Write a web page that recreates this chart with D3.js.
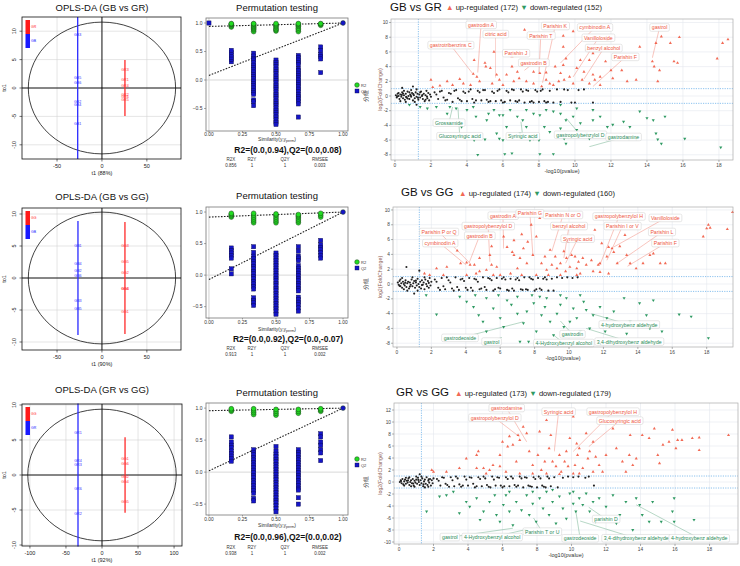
<!DOCTYPE html>
<html><head><meta charset="utf-8">
<script src="https://cdn.jsdelivr.net/npm/d3@7"></script>
<style>body{margin:0;background:#fff}svg{display:block}</style>
</head><body><script>
// ================= DATA =================
// ---- OPLS-DA score plots ----
const oplsTitles=["OPLS-DA (GB vs GR)","OPLS-DA (GB vs GG)","OPLS-DA (GR vs GG)"];
const oplsXLabels=["t1 (88%)","t1 (90%)","t1 (92%)"];
const oplsYLabel="to1";
const oplsGroups=[["GB","GR"],["GB","GG"],["GR","GG"]];
const oplsXTicks=[[-50,0,50],[-50,0,50],[-100,-50,0,50,100]];
const oplsYTicks=[-10,-5,0,5,10];
const oplsEllipse=[[82,11.6],[82,10.3],[103,9.4]];           // [t1 radius, to1 radius]
const oplsLineA=[[-27,-12.5,12.5],[-26.7,-8.9,8.9],[-33.3,-10.2,10.2]]; // [t1, to1 min, to1 max]
const oplsLineB=[[25.6,-4.95,4.95],[25.6,-8.75,8.75],[32,-5.4,5.4]];
const oplsScoresA=[
 [["GB3",9.4],["GB5",1.8],["GB6",1.0],["GB2",-2.5],["GB4",-3.0],["GB1",-6.3]],
 [["GB1",5.0],["GB4",2.2],["GB2",1.1],["GB6",0.3],["GB3",-3.6],["GB5",-4.8]],
 [["GR1",6.1],["GR4",2.1],["GR3",1.4],["GR6",-2.0],["GR2",-5.6]]];
const oplsScoresB=[
 [["GR3",3.2],["GR1",1.4],["GR4",0.4],["GR2",-1.1],["GR6",-1.6],["GR5",-2.1]],
 [["GG3",5.1],["GG5",2.5],["GG2",0.8],["GG4",-1.6],["GG6",-1.7],["GG1",-5.2]],
 [["GG1",2.3],["GG6",1.65],["GG2",-0.3],["GG4",-0.95],["GG5",-3.8]]];

// ---- Permutation tests ----
const permSim=[0.1667,0.3333,0.5,0.6667,0.8333];
const permR2=[
 [[0.93,0.95,0.97,0.98,0.99],[0.85,0.88,0.9,0.92,0.94,0.96,0.98,0.99],[0.86,0.88,0.9,0.93,0.95,0.97,0.99],[0.85,0.88,0.91,0.94,0.96,0.98,0.99],[0.96,0.98,0.99]],
 [[0.92,0.94,0.96,0.98],[0.83,0.86,0.89,0.92,0.95,0.98],[0.83,0.86,0.89,0.92,0.95,0.97],[0.83,0.86,0.89,0.92,0.94,0.96],[0.92,0.95,0.98]],
 [[0.95,0.97,0.99],[0.9,0.93,0.96,0.99],[0.89,0.92,0.95,0.98],[0.92,0.95,0.98],[0.95,0.97,0.99]]];
const permQ2=[
 [[0.32,0.36,0.4,0.44,0.48,0.52],
  [0.47,0.42,0.38,0.35,0.3,0.26,0.22,0.18,0.14,0.1,0.06,0.02,-0.02,-0.06,-0.1,-0.14,-0.18,-0.22,-0.25,-0.35,-0.38,-0.45],
  [0.35,0.31,0.27,0.23,0.19,0.15,0.11,0.07,0.03,-0.01,-0.05,-0.09,-0.13,-0.17,-0.21,-0.25,-0.29,-0.33,-0.37,-0.41,-0.45,-0.49,-0.53,-0.57,-0.61,-0.65,-0.7,-0.74,-0.78],
  [0.43,0.39,0.35,0.31,0.27,0.2,0.16,0.12,0.08,0.04,0,-0.04,-0.08,-0.12,-0.16,-0.2,-0.25,-0.29,-0.33,-0.37,-0.42,-0.65],
  [0.58,0.52,0.45,0.41,0.37,0.13]],
 [[0.43,0.39,0.35,0.31,0.27,0.1,0.02],
  [0.45,0.36,0.3,0.26,0.22,0.18,0.14,0.1,0.06,0.02,-0.02,-0.06,-0.1,-0.14,-0.18,-0.22,-0.36,-0.4,-0.44,-0.48],
  [0.35,0.31,0.27,0.23,0.19,0.15,0.11,0.07,0.03,-0.01,-0.05,-0.09,-0.13,-0.17,-0.21,-0.25,-0.29,-0.33,-0.37,-0.41,-0.45,-0.49,-0.53,-0.57,-0.62],
  [0.45,0.38,0.3,0.27,0.23,0.15,0.11,0.07,0.03,-0.01,-0.05,-0.09,-0.13,-0.17,-0.21,-0.25,-0.35,-0.39,-0.43,-0.47,-0.52,-0.57],
  [0.55,0.48,0.44,0.4,0.36,0.31,0.27]],
 [[0.55,0.47,0.42,0.38,0.33,0.29,0.25,0.21,0.17],
  [0.35,0.31,0.27,0.23,0.19,0.15,0.11,0.07,0.03,-0.01,-0.05,-0.09,-0.13,-0.17,-0.21,-0.25,-0.29,-0.33,-0.41,-0.45],
  [0.4,0.33,0.28,0.24,0.2,0.16,0.12,0.08,0.04,0,-0.04,-0.08,-0.12,-0.16,-0.2,-0.24,-0.28,-0.32,-0.36,-0.4,-0.44,-0.48,-0.52,-0.57,-0.62],
  [0.35,0.31,0.27,0.23,0.19,0.15,0.11,0.07,0.03,-0.01,-0.05,-0.09,-0.13,-0.17,-0.21,-0.25,-0.28,-0.4,-0.5],
  [0.6,0.55,0.47,0.42,0.35,0.3,0.18]]];
const permExtraQ2=[[0,1.0],null,null];         // extra point at similarity 0
const permIntercepts=[[0.94,0.08],[0.92,-0.07],[0.96,0.02]]; // [R2, Q2]
const permStatsLabel=["R2=(0.0,0.94),Q2=(0.0,0.08)","R2=(0.0,0.92),Q2=(0.0,-0.07)","R2=(0.0,0.96),Q2=(0.0,0.02)"];
const permTableHead=["R2X","R2Y","Q2Y","RMSEE"];
const permTableVals=[["0.856","1","1","0.003"],["0.913","1","1","0.002"],["0.938","1","1","0.002"]];
const permXTicks=[0,0.25,0.5,0.75,1];
const permYTicks=[-0.5,0,0.5,1];

// ---- Volcano plots ----
const volTitles=["GB vs GR","GB vs GG","GR vs GG"];
const volCounts=[[172,152],[174,160],[173,179]];
const volXTicks=[0,2,4,6,8,10,12,14,16,18];
const volYTicks=[[-8,-6,-4,-2,0,2,4,6,8,10],[-8,-6,-4,-2,0,2,4,6,8,10],[-10,-8,-6,-4,-2,0,2,4,6,8,10,12]];
const pThreshold=1.3, fcThreshold=1;
const volUp=[
 [2.0,2.2,2.9,2.0,3.6,2.3,4.35,3.0,4.4,4.9,5.0,4.5,5.3,3.8,5.5,6.0,5.05,4.0,6.5,5.4,7.2,9.0,9.35,8.2,9.9,8.8,9.35,6.7,9.5,5.1,11.0,5.8,10.8,4.9,11.7,4.7,12.0,3.5,12.6,3.5,12.9,2.0,13.6,6.7,14.8,8.1,14.5,7.2,15.3,7.2,15.8,8.0,14.3,4.7,14.4,4.0,14.7,3.5,15.5,4.7,15.7,4.5,14.6,2.0,17.9,5.1,18.2,7.2,18.5,7.7,11.8,7.6,10.65,6.3,10.3,4.9,10.1,3.8,9.7,2.6,9.4,2.2,9.1,2.0,8.6,1.7,8.15,1.3,7.7,1.7,7.3,2.0,6.9,2.4,6.6,2.0,6.2,2.9,5.8,2.2,6.0,1.5,5.4,1.7,4.7,2.0,4.2,1.5,3.8,1.7,3.2,1.5,2.5,1.4,2.1,1.2,9.2,3.1,8.9,4.0,8.4,3.2,8.05,3.1,9.35,4.2,11.1,2.2,11.4,2.6,10.5,3.3,10.8,1.7,11.4,1.5,12.1,2.4,13.4,2.2,9.9,1.7,10.4,2.2,11.0,2.9,7.7,3.3,6.8,3.3,6.5,4.0,5.65,2.9,4.55,2.6,8.4,2.2,8.8,1.5],
 [1.6,1.4,2.3,2.1,2.9,2.3,3.5,4.5,3.7,2.8,4.05,2.9,4.25,2.6,4.5,2.6,4.8,1.7,5.2,1.9,5.4,3.9,5.5,5.1,5.8,2.3,6.0,1.2,6.2,6.4,6.4,5.0,6.7,4.3,6.8,5.9,7.0,2.1,7.15,3.5,7.25,6.7,7.35,4.8,7.55,2.8,7.6,5.7,7.8,8.0,7.9,3.9,8.1,6.4,8.3,8.9,8.4,2.8,8.6,3.7,8.7,1.9,8.9,4.6,9.0,2.6,9.2,3.7,9.3,2.1,9.5,2.8,9.7,4.4,9.8,1.7,9.85,3.5,9.95,5.7,10.05,2.3,10.15,3.9,10.35,3.7,10.45,2.1,10.55,3.0,10.65,1.4,10.8,3.5,11.0,2.6,11.3,3.2,11.5,7.3,11.7,2.6,11.8,2.8,11.9,5.5,12.2,3.7,12.3,5.0,12.5,4.8,12.6,4.3,12.8,2.8,12.95,5.1,13.25,6.6,13.35,3.9,13.55,2.8,13.9,2.1,14.3,2.8,14.7,3.9,14.9,4.1,15.0,5.5,15.3,2.8,15.6,2.8,17.8,6.4,18.0,7.5,18.1,8.0,18.2,7.6,19.2,7.4,19.5,9.7,11.8,1.6,12.3,1.4,11.4,1.7,2.7,1.2,1.9,1.2,4.05,1.2,4.6,1.4,5.6,1.2,6.6,1.4,7.25,1.2,8.1,1.2,8.8,1.2,9.5,1.2,10.45,1.2,6.8,3.9,5.5,2.6,4.8,3.5],
 [1.9,2.0,2.0,1.7,2.75,1.7,3.5,2.3,3.9,3.9,4.5,4.5,4.6,5.1,4.9,2.3,5.25,2.0,5.45,2.8,5.85,4.5,6.0,6.7,6.3,5.9,6.4,7.6,6.6,6.2,6.9,7.8,7.0,7.0,7.2,9.2,7.4,8.1,7.55,5.1,7.75,2.8,8.05,4.5,8.15,8.4,8.25,2.0,8.45,3.4,8.55,10.3,8.7,5.6,8.8,7.8,9.1,2.6,9.3,4.5,9.4,1.7,9.6,3.4,9.7,5.1,9.8,2.6,9.9,7.3,10.1,10.9,10.2,2.8,10.3,6.4,10.35,4.5,10.45,5.6,10.65,2.3,10.85,8.1,10.95,3.9,11.05,5.1,11.25,6.7,11.4,4.2,11.6,2.8,12.0,4.5,12.4,8.9,12.6,5.6,12.95,3.4,13.15,1.7,13.35,4.5,13.4,7.8,13.55,2.8,14.1,7.8,14.5,7.3,14.8,8.9,15.0,4.5,15.1,3.1,15.3,6.2,15.65,6.7,15.85,8.7,16.05,5.6,16.15,7.0,16.4,7.0,17.0,7.3,17.4,7.4,17.4,5.3,19.1,7.8,5.05,1.4,6.2,1.7,7.0,1.4,7.75,1.4,8.55,1.4,9.3,1.3,10.1,1.4,4.5,2.3,5.85,2.6,6.8,3.4,8.9,3.4,10.45,1.4,11.25,1.7,11.8,1.7,13.75,3.9]];
const volDown=[
 [0.8,-1.2,1.4,-1.5,1.8,-1.7,2.3,-1.5,2.9,-2.4,3.4,-1.7,4.0,-1.9,4.5,-2.8,4.6,-8.0,4.4,-6.0,5.0,-5.9,5.65,-5.1,5.8,-5.8,6.0,-6.0,6.1,-7.9,6.5,-7.8,5.2,-2.4,5.5,-1.9,5.8,-2.6,6.4,-1.9,6.8,-2.8,7.1,-3.3,7.5,-6.0,7.7,-5.8,8.0,-6.0,8.05,-7.9,8.8,-7.9,8.3,-4.2,8.05,-2.6,8.4,-1.9,9.2,-2.4,9.5,-3.3,9.4,-5.8,9.2,-4.4,9.9,-2.8,10.3,-3.7,10.65,-5.1,10.8,-5.8,11.0,-1.9,11.4,-2.8,11.8,-4.2,12.1,-3.9,12.7,-3.5,13.0,-5.8,13.4,-5.8,13.05,-4.2,13.6,-2.1,14.0,-3.0,14.35,-3.3,14.5,-5.1,14.6,-5.9,14.8,-6.5,15.0,-2.8,16.1,-5.8,18.1,-7.0,3.7,-4.2,6.95,-5.1,7.3,-4.2,8.6,-4.9,10.1,-4.6,9.5,-6.5,6.2,-4.2,6.0,-2.6,5.1,-3.3,4.35,-1.5,3.05,-1.5,7.3,-1.9,7.7,-2.4,8.8,-2.1,9.2,-1.2,10.1,-1.7,11.0,-3.3],
 [2.3,-4.1,1.7,-1.5,3.65,-1.7,4.05,-2.4,4.45,-3.1,4.75,-4.2,5.0,-5.1,5.2,-6.4,5.6,-3.3,6.0,-4.6,6.2,-5.8,6.4,-2.2,6.65,-2.8,7.0,-4.0,7.15,-7.8,7.35,-5.3,7.55,-3.7,7.65,-7.8,7.85,-1.5,7.95,-2.6,8.1,-6.4,8.3,-7.8,8.4,-4.2,8.6,-3.1,8.7,-1.9,8.9,-5.1,9.1,-6.9,9.3,-4.0,9.5,-2.8,9.7,-5.8,9.85,-1.9,10.05,-5.1,10.25,-3.3,10.45,-4.6,10.65,-6.4,10.85,-2.4,11.0,-3.5,11.2,-6.0,11.4,-4.2,11.8,-3.1,12.2,-4.6,12.6,-3.7,13.0,-5.5,13.2,-1.9,13.55,-5.1,14.1,-2.6,14.5,-4.2,14.9,-2.2,15.4,-6.4,16.4,-4.1,17.1,-4.4,18.1,-7.3,4.55,-1.5,5.2,-1.9,5.9,-1.5,7.0,-1.7,8.3,-1.7,9.5,-1.5,10.65,-1.5,12.1,-6.4,13.35,-6.7,14.7,-6.0],
 [1.6,-4.9,2.35,-2.4,2.75,-2.2,3.15,-1.6,3.5,-5.2,3.9,-3.3,4.1,-4.1,4.5,-2.7,4.7,-6.3,4.9,-4.9,5.25,-3.3,5.55,-2.2,5.65,-5.5,5.85,-6.6,6.05,-3.8,6.2,-2.2,6.4,-4.9,6.6,-7.2,6.8,-3.3,7.1,-4.7,7.3,-8.0,7.4,-2.2,7.55,-5.5,7.75,-3.6,7.95,-6.6,8.15,-2.7,8.35,-4.4,8.55,-1.6,8.7,-5.5,8.9,-3.3,9.1,-6.9,9.3,-2.4,9.5,-4.4,9.7,-6.1,9.9,-1.9,10.1,-3.6,10.25,-4.9,10.45,-2.7,10.65,-3.8,10.85,-1.9,11.05,-4.9,11.25,-3.3,11.4,-6.6,11.6,-2.7,12.0,-4.1,12.2,-6.1,12.4,-2.2,12.6,-6.9,12.8,-5.5,13.15,-3.3,13.55,-8.0,13.75,-2.7,13.95,-3.8,14.1,-5.5,14.5,-6.6,14.7,-3.3,15.2,-6.6,15.85,-4.9,15.95,-6.6,17.1,-6.3,15.95,-2.7,6.4,-1.6,7.75,-1.6,8.9,-1.3,10.1,-1.6]];
const volNS=[
 [0.05,0.1,0.1,-0.2,0.15,0.3,0.2,0,0.25,-0.4,0.3,0.2,0.35,-0.1,0.4,0.5,0.45,-0.3,0.5,0.1,0.55,-0.5,0.6,0.3,0.65,-0.2,0.7,0.6,0.75,0,0.8,-0.4,0.85,0.2,0.9,-0.1,0.95,0.4,1.0,-0.6,1.05,0.1,1.1,-0.3,1.15,0.5,1.2,-0.1,1.25,0.3,1.3,-0.5,1.35,0.2,1.4,-0.2,1.45,0.6,1.5,0,1.55,-0.4,1.6,0.3,1.65,-0.7,1.7,0.1,1.75,0.7,1.8,-0.3,1.85,0.4,1.9,-0.6,1.95,0.2,2.0,-0.1,0.3,-0.7,0.6,-0.8,0.9,0.8,1.2,0.9,0.5,0.7,1.1,-0.8,0.2,0.4,0.8,0.5,1.4,0.5,1.7,-0.5,0.12,-0.05,0.38,0.15,0.62,-0.12,0.88,0.05,1.02,0.25,1.28,-0.25,1.52,0.12,1.78,-0.08,0.7,-0.35,0.45,0.35,1.0,1.3,1.2,-1.2,0.4,1.1,
  2.2,0.5,2.4,-0.4,2.6,0.7,2.8,-0.6,3.0,0.4,3.2,-0.8,3.4,0.8,3.6,-0.5,3.8,0.6,4.0,-0.7,4.2,0.9,4.4,-0.9,4.6,0.7,4.8,-0.6,5.0,0.8,5.2,-0.8,5.4,0.6,5.6,-0.7,5.8,0.9,6.0,-0.9,6.2,0.7,6.4,-0.6,6.6,0.8,6.8,-0.8,7.0,0.9,7.2,-0.9,7.4,0.7,7.6,-0.7,7.8,0.8,8.0,-0.8,8.2,0.9,8.4,-0.9,8.6,0.7,8.8,-0.9,9.0,0.9,9.2,-0.8,9.6,0.8,10.0,-0.9,10.5,0.9,11.0,-0.9,2.3,0.2,2.7,-0.2,3.1,0.3,3.5,-0.3,3.9,0.4,4.3,-0.4,4.7,0.5,5.1,-0.5,5.5,0.4,5.9,-0.6,6.3,0.5,6.7,-0.7,7.1,0.6,7.5,-0.8,7.9,0.6,8.3,-0.7,2.5,0.6,2.9,-0.5,3.3,0.7,3.7,-0.7,4.1,0.6,4.5,-0.6,4.9,0.8,5.3,-0.7,5.7,0.7,6.1,-0.8,6.5,0.9,6.9,-0.6,7.3,0.8,7.7,-0.9,8.1,0.7,8.5,-0.8,9.4,0.9,9.8,-0.9,10.2,0.8],
 [0.05,0.2,0.1,-0.1,0.15,0.4,0.2,-0.3,0.25,0.1,0.3,-0.5,0.35,0.3,0.4,0,0.45,-0.2,0.5,0.5,0.55,-0.4,0.6,0.1,0.65,0.3,0.7,-0.6,0.75,0.2,0.8,-0.1,0.85,0.6,0.9,-0.3,0.95,0.1,1.0,0.4,1.05,-0.5,1.1,0.2,1.15,-0.2,1.2,0.7,1.25,0,1.3,-0.4,1.35,0.3,1.4,-0.6,1.45,0.5,1.5,-0.1,1.55,0.2,1.6,-0.7,1.65,0.6,1.7,0,1.75,-0.3,1.8,0.4,1.85,-0.5,1.9,0.8,1.95,-0.2,2.0,0.3,0.55,2.3,1.3,1.8,1.0,-1.3,0.3,0.8,0.6,-0.9,0.9,0.9,1.2,-0.9,0.4,-0.7,1.6,0.9,0.2,0.6,0.75,-0.35,1.1,0.45,1.45,-0.15,1.85,0.15,0.15,-0.25,0.48,0.18,
  2.2,0.6,2.4,-0.5,2.6,0.8,2.8,-0.7,3.0,0.5,3.2,-0.6,3.4,0.9,3.6,-0.8,3.8,0.7,4.0,-0.5,4.2,0.8,4.4,-0.9,4.6,0.6,4.8,-0.7,5.0,0.9,5.2,-0.8,5.4,0.7,5.6,-0.9,5.8,0.8,6.0,-0.6,6.2,0.9,6.4,-0.8,6.6,0.7,6.8,-0.9,7.0,0.8,7.2,-0.7,7.4,0.9,7.6,-0.8,7.8,0.7,8.0,-0.9,8.2,0.8,8.4,-0.8,8.6,0.9,8.8,-0.9,9.0,0.7,9.3,0.9,9.6,0.8,9.9,0.9,10.2,0.8,10.5,0.9,2.3,0.3,2.7,-0.3,3.1,0.2,3.5,-0.4,3.9,0.4,4.3,-0.5,4.7,0.3,5.1,-0.4,5.5,0.5,5.9,-0.5,6.3,0.6,6.7,-0.6,7.1,0.5,7.5,-0.7,7.9,0.6,8.3,-0.6,8.7,0.6,2.5,-0.8,2.9,0.9,3.3,-0.9,3.7,0.6,4.1,-0.8,4.5,0.7,4.9,-0.6,5.3,0.8,5.7,-0.7,6.1,0.7,6.5,-0.9,6.9,0.6,7.3,-0.8,7.7,0.9,8.1,-0.7,8.5,0.7,9.1,-0.9],
 [0.05,0,0.1,0.3,0.15,-0.2,0.2,0.5,0.25,-0.4,0.3,0.1,0.35,0.4,0.4,-0.3,0.45,0.2,0.5,-0.1,0.55,0.6,0.6,-0.5,0.65,0,0.7,0.3,0.75,-0.2,0.8,0.5,0.85,-0.6,0.9,0.2,0.95,-0.1,1.0,0.4,1.05,-0.3,1.1,0.7,1.15,0,1.2,-0.5,1.25,0.3,1.3,-0.2,1.35,0.6,1.4,-0.7,1.45,0.1,1.5,0.4,1.55,-0.3,1.6,0.8,1.65,-0.5,1.7,0.2,1.75,-0.1,1.8,0.5,1.85,-0.6,1.9,0.3,1.95,-0.2,2.0,0.6,1.2,1.3,0.6,0.8,0.9,-0.8,0.3,-0.6,1.5,-0.9,1.0,0.9,0.4,0.7,1.7,-0.8,0.7,-0.7,1.3,0.9,0.12,0.15,0.52,0.25,0.82,-0.25,1.12,0.35,1.42,-0.4,1.72,0.45,
  2.2,0.5,2.4,-0.6,2.6,0.7,2.8,-0.5,3.0,0.8,3.2,-0.7,3.4,0.6,3.6,-0.8,3.8,0.9,4.0,-0.6,4.2,0.7,4.4,-0.9,4.6,0.8,4.8,-0.7,5.0,0.6,5.2,-0.8,5.4,0.9,5.6,-0.6,5.8,0.7,6.0,-0.9,6.2,0.8,6.4,-0.7,6.6,0.6,6.8,-0.8,7.0,0.9,7.2,-0.9,7.4,0.7,7.6,-0.7,7.8,0.8,8.0,-0.9,8.2,0.6,8.4,-0.8,8.6,0.9,8.8,-0.7,9.0,0.8,9.2,-0.9,9.5,0.7,9.8,0.9,10.1,0.8,10.4,0.9,10.8,0.7,11.0,0.9,11.3,-0.6,2.3,0.2,2.7,-0.3,3.1,0.3,3.5,-0.4,3.9,0.4,4.3,-0.3,4.7,0.5,5.1,-0.5,5.5,0.4,5.9,-0.6,6.3,0.5,6.7,-0.5,7.1,0.6,7.5,-0.6,7.9,0.5,8.3,-0.6,8.7,0.6,2.5,0.8,2.9,-0.8,3.3,0.9,3.7,-0.6,4.1,0.8,4.5,-0.7,4.9,0.9,5.3,-0.9,5.7,0.8,6.1,-0.7,6.5,0.9,6.9,-0.6,7.3,0.8,7.7,-0.8,8.1,0.9,8.5,-0.9]];
// labels: [text, label x, label y, target x, target y]
const volUpLabels=[
 [["gastrodin A",4.78,9.66,4.6,3.2],["citric acid",5.6,8.4,5.6,2.5],["gastrotribenzins C",3.1,6.9,4.3,3.1],["Parishin J",6.72,5.8,7.2,5.8],["gastrodin B",7.7,4.5,7.2,3.5],["Parishin K",8.9,9.5,8.2,1.8],["Parishin T",8.1,8.2,8.0,3.0],["cymbinodin A",11.1,9.3,9.2,4.5],["Vanilloloside",11.3,7.9,9.9,2.6],["benzyl alcohol",11.6,6.5,10.5,2.3],["Parishin F",12.8,5.3,11.0,1.3],["gastrol",14.7,9.3,14.3,5.2]],
 [["gastrodin A",6.16,9.2,6.2,4.8],["Parishin G",7.73,9.5,7.9,3.9],["Parishin N or O",9.65,9.3,9.0,4.4],["gastropolybenzylol H",12.9,9.1,11.8,2.6],["Vanilloloside",15.6,8.9,12.6,5.0],["gastropolybenzylol D",5.3,7.8,5.4,3.0],["benzyl alcohol",10.0,7.8,9.7,3.5],["Parishin I or V",13.1,7.8,12.2,3.2],["Parishin P or Q",2.45,7.0,4.25,2.8],["gastrodin B",4.8,6.5,4.2,2.9],["Syringic acid",10.5,6.1,9.8,2.8],["Parishin L",15.4,7.0,12.8,2.8],["cymbinodin A",2.5,5.5,4.0,2.6],["Parishin F",15.6,5.5,13.4,2.4]],
 [["gastrodamine",6.24,12.3,7.4,6.7],["gastropolybenzylol D",5.55,10.7,7.0,7.5],["Syringic acid",9.25,11.7,9.0,5.1],["gastropolybenzylol H",12.4,11.7,10.1,5.1],["Glucosyringic acid",12.8,10.2,11.0,5.9]]];
const volDownLabels=[
 [["Grossamide",3.0,-3.65,3.2,-1.5],["Glucosyringic acid",3.6,-5.5,3.5,-1.6],["Syringic acid",7.1,-5.5,7.0,-3.5],["gastropolybenzylol D",10.3,-5.3,9.5,-3.0],["gastrodamine",12.7,-5.6,10.8,-6.9]],
 [["gastrodeoside",3.66,-7.3,7.35,-5.1],["gastrol",5.5,-7.8,6.1,-7.2],["4-Hydroxybenzyl alcohol",9.7,-8.0,9.1,-6.9],["gastrodin",10.2,-6.8,9.5,-5.0],["3,4-dihydroxybenz aldehyde",13.5,-7.8,11.0,-6.0],["4-hydroxybenz aldehyde",13.5,-5.5,11.3,-4.0]],
 [["gastrol",2.95,-9.2,6.6,-7.7],["4-Hydroxybenzyl alcohol",5.4,-9.2,7.4,-7.9],["Parishin T or U",8.3,-8.3,7.8,-6.0],["gastrodeoside",10.5,-9.4,10.25,-4.9],["3,4-dihydroxybenz aldehyde",13.75,-9.4,10.5,-6.5],["4-hydroxybenz aldehyde",17.4,-9.4,13.75,-3.8],["parishin D",12.0,-6.2,11.0,-4.2]]];

// ================= DRAWING =================
const FONT="'Liberation Sans', Arial, sans-serif";
const svg=d3.select("body").append("svg").attr("width",740).attr("height",566)
  .style("font-family",FONT).style("background","#fff");
const pairs=a=>d3.range(0,a.length,2).map(i=>[a[i],a[i+1]]);

// ---------- OPLS-DA ----------
const oplsLayout=[
 {x0:22,x1:181,y0:17,y1:159,xd:[-89,88],yd:[-12.5,12.5],ty:10.5},
 {x0:22,x1:181,y0:208,y1:350,xd:[-89,88],yd:[-11.25,10.94],ty:199.5},
 {x0:22,x1:182,y0:404,y1:546,xd:[-111,111],yd:[-10.14,10.14],ty:392.5}];
oplsLayout.forEach((L,i)=>{
  const g=svg.append("g");
  const x=d3.scaleLinear().domain(L.xd).range([L.x0,L.x1]);
  const y=d3.scaleLinear().domain(L.yd).range([L.y1,L.y0]);
  g.append("text").attr("x",102).attr("y",L.ty).attr("text-anchor","middle").attr("font-size",9.5).attr("fill","#111").text(oplsTitles[i]);
  oplsXTicks[i].forEach(t=>g.append("line").attr("x1",x(t)).attr("x2",x(t)).attr("y1",L.y0).attr("y2",L.y1).attr("stroke","#d4d4d4").attr("stroke-width",0.6));
  oplsYTicks.forEach(t=>{ if(y(t)>=L.y0-1&&y(t)<=L.y1+1) g.append("line").attr("x1",L.x0).attr("x2",L.x1).attr("y1",y(t)).attr("y2",y(t)).attr("stroke","#d4d4d4").attr("stroke-width",0.6);});
  g.append("line").attr("x1",x(0)).attr("x2",x(0)).attr("y1",L.y0).attr("y2",L.y1).attr("stroke","#000").attr("stroke-width",0.9);
  g.append("line").attr("x1",L.x0).attr("x2",L.x1).attr("y1",y(0)).attr("y2",y(0)).attr("stroke","#000").attr("stroke-width",0.9);
  const [ra,rb]=oplsEllipse[i];
  g.append("ellipse").attr("cx",x(0)).attr("cy",y(0)).attr("rx",x(ra)-x(0)).attr("ry",y(0)-y(rb))
    .attr("fill","none").attr("stroke","#111").attr("stroke-width",0.8);
  const A=oplsLineA[i],B=oplsLineB[i];
  g.append("line").attr("x1",x(A[0])).attr("x2",x(A[0])).attr("y1",y(A[1])).attr("y2",y(A[2])).attr("stroke","#2a2aff").attr("stroke-width",1.3);
  g.append("line").attr("x1",x(B[0])).attr("x2",x(B[0])).attr("y1",y(B[1])).attr("y2",y(B[2])).attr("stroke","#ff2a2a").attr("stroke-width",1.3);
  oplsScoresA[i].forEach(([t,v])=>g.append("text").attr("x",x(A[0])).attr("y",y(v)).attr("dy","0.35em").attr("text-anchor","middle").attr("font-size",3.6).attr("fill","#2a2aff").text(t));
  oplsScoresB[i].forEach(([t,v])=>g.append("text").attr("x",x(B[0])).attr("y",y(v)).attr("dy","0.35em").attr("text-anchor","middle").attr("font-size",3.6).attr("fill","#ff2a2a").text(t));
  g.append("rect").attr("x",L.x0).attr("y",L.y0).attr("width",L.x1-L.x0).attr("height",L.y1-L.y0).attr("fill","none").attr("stroke","#111").attr("stroke-width",0.8);
  g.append("rect").attr("x",L.x0+3.5).attr("y",L.y0+3).attr("width",4.5).attr("height",14).attr("fill","#ff1a1a");
  g.append("rect").attr("x",L.x0+3.5).attr("y",L.y0+17).attr("width",4.5).attr("height",14).attr("fill","#1a1aff");
  g.append("text").attr("x",L.x0+9).attr("y",L.y0+11).attr("font-size",3.5).attr("fill","#ff1a1a").text(oplsGroups[i][1]);
  g.append("text").attr("x",L.x0+9).attr("y",L.y0+25).attr("font-size",3.5).attr("fill","#1a1aff").text(oplsGroups[i][0]);
  oplsXTicks[i].forEach(t=>{
    g.append("line").attr("x1",x(t)).attr("x2",x(t)).attr("y1",L.y1).attr("y2",L.y1+2.5).attr("stroke","#111").attr("stroke-width",0.6);
    g.append("text").attr("x",x(t)).attr("y",L.y1+9).attr("text-anchor","middle").attr("font-size",5.5).attr("fill","#222").text(t);
  });
  oplsYTicks.forEach(t=>{
    if(y(t)<L.y0-1||y(t)>L.y1+1) return;
    g.append("line").attr("x1",L.x0-2.5).attr("x2",L.x0).attr("y1",y(t)).attr("y2",y(t)).attr("stroke","#111").attr("stroke-width",0.6);
    g.append("text").attr("transform",`translate(${L.x0-6.5},${y(t)}) rotate(-90)`).attr("text-anchor","middle").attr("font-size",5.5).attr("fill","#222").text(t);
  });
  g.append("text").attr("x",102).attr("y",L.y1+16).attr("text-anchor","middle").attr("font-size",5.5).attr("fill","#222").text(oplsXLabels[i]);
  g.append("text").attr("transform",`translate(${L.x0-16},${(L.y0+L.y1)/2}) rotate(-90)`).attr("text-anchor","middle").attr("font-size",5.5).attr("fill","#222").text(oplsYLabel);
});

// ---------- Permutation ----------
const permLayout=[
 {x0:206,x1:348,y0:18,y1:131,yd:[-0.895,1.088],ty:10.5,tk:136,xl:140.5,r2y:153,tab:161,ly:85},
 {x0:206,x1:348,y0:207,y1:318,yd:[-0.68,1.08],ty:198.5,tk:324,xl:331,r2y:342,tab:350,ly:262},
 {x0:206,x1:348,y0:403,y1:515,yd:[-0.67,1.08],ty:395.5,tk:521,xl:527,r2y:540,tab:549,ly:459}];
permLayout.forEach((L,i)=>{
  const g=svg.append("g");
  const x=d3.scaleLinear().domain([-0.022,1.037]).range([L.x0,L.x1]);
  const y=d3.scaleLinear().domain(L.yd).range([L.y1,L.y0]);
  g.append("text").attr("x",277).attr("y",L.ty).attr("text-anchor","middle").attr("font-size",9.5).attr("fill","#111").text("Permutation testing");
  g.append("line").attr("x1",x(0)).attr("x2",x(0)).attr("y1",L.y0).attr("y2",L.y1).attr("stroke","#d8d8d8").attr("stroke-width",1.2);
  g.append("line").attr("x1",L.x0).attr("x2",L.x1).attr("y1",y(0)).attr("y2",y(0)).attr("stroke","#d8d8d8").attr("stroke-width",1);
  const [ir2,iq2]=permIntercepts[i];
  g.append("line").attr("x1",x(0)).attr("y1",y(ir2)).attr("x2",x(1)).attr("y2",y(1)).attr("stroke","#222").attr("stroke-width",1.1).attr("stroke-dasharray","1.6,1.4");
  g.append("line").attr("x1",x(0)).attr("y1",y(iq2)).attr("x2",x(1)).attr("y2",y(1)).attr("stroke","#222").attr("stroke-width",1.1).attr("stroke-dasharray","1.6,1.4");
  const sq=(sx,v)=>g.append("rect").attr("x",x(sx)-2.1).attr("y",y(v)-2.1).attr("width",4.2).attr("height",4.2).attr("fill","#1515c8").attr("stroke","#0a0a40").attr("stroke-width",0.4);
  const ci=(sx,v,f)=>g.append("circle").attr("cx",x(sx)).attr("cy",y(v)).attr("r",2.4).attr("fill",f).attr("stroke","#1a3a1a").attr("stroke-width",0.5);
  permQ2[i].forEach((col,k)=>col.forEach(v=>sq(permSim[k],v)));
  if(permExtraQ2[i]) sq(permExtraQ2[i][0],permExtraQ2[i][1]);
  permR2[i].forEach((col,k)=>col.forEach(v=>ci(permSim[k],v,"#22dd22")));
  ci(1,1,"#1515c8");
  g.append("rect").attr("x",L.x0).attr("y",L.y0).attr("width",L.x1-L.x0).attr("height",L.y1-L.y0).attr("fill","none").attr("stroke","#777").attr("stroke-width",0.8);
  permXTicks.forEach(t=>{
    g.append("line").attr("x1",x(t)).attr("x2",x(t)).attr("y1",L.y1).attr("y2",L.y1+1.5).attr("stroke","#555").attr("stroke-width",0.5);
    g.append("text").attr("x",x(t)).attr("y",L.tk).attr("text-anchor","middle").attr("font-size",4.8).attr("fill","#333").text(d3.format(".2f")(t));
  });
  permYTicks.forEach(t=>{
    g.append("line").attr("x1",L.x0-2).attr("x2",L.x0).attr("y1",y(t)).attr("y2",y(t)).attr("stroke","#555").attr("stroke-width",0.5);
    g.append("text").attr("x",L.x0-3.5).attr("y",y(t)).attr("dy","0.35em").attr("text-anchor","end").attr("font-size",5).attr("fill","#333").text(d3.format(".1f")(t));
  });
  const xl=g.append("text").attr("x",277).attr("y",L.xl).attr("text-anchor","middle").attr("font-size",5).attr("fill","#333");
  xl.append("tspan").text("Similarity(y,y");
  xl.append("tspan").attr("font-size",3.6).attr("dy",1.2).text("perm");
  xl.append("tspan").attr("dy",-1.2).text(")");
  g.append("text").attr("x",288).attr("y",L.r2y).attr("text-anchor","middle").attr("font-size",8.5).attr("font-weight","bold").attr("fill","#111").text(permStatsLabel[i]);
  const tx=[231,252,285,320];
  permTableHead.forEach((h,k)=>{
    g.append("text").attr("x",tx[k]).attr("y",L.tab).attr("text-anchor","middle").attr("font-size",4.5).attr("fill","#333").text(h);
    g.append("text").attr("x",tx[k]).attr("y",L.tab+6).attr("text-anchor","middle").attr("font-size",4.5).attr("fill","#333").text(permTableVals[i][k]);
  });
  g.append("circle").attr("cx",357).attr("cy",L.ly).attr("r",2.3).attr("fill","#22dd22").attr("stroke","#1a3a1a").attr("stroke-width",0.5);
  g.append("rect").attr("x",355).attr("y",L.ly+4).attr("width",4).attr("height",4).attr("fill","#1515c8").attr("stroke","#0a0a40").attr("stroke-width",0.4);
  g.append("text").attr("x",361).attr("y",L.ly+1.5).attr("font-size",4).attr("fill","#333").text("R2");
  g.append("text").attr("x",361).attr("y",L.ly+7.5).attr("font-size",4).attr("fill","#333").text("Q2");
});

// ---------- Volcano ----------
const volLayout=[
 {x0:391,x1:733,y0:19,y1:160,xd:[-0.22,18.78],yd:[-8.71,10.48],tx:390,ty:10.5,lx:446},
 {x0:393,x1:733,y0:207,y1:347,xd:[-0.23,19.53],yd:[-8.51,10.4],tx:401,ty:196,lx:459},
 {x0:394,x1:738,y0:403,y1:544,xd:[-0.29,19.65],yd:[-10.33,13.17],tx:396,ty:396,lx:455}];
const UPC="#f26a55", DNC="#2f9a63", UPT="#ee5540", DNT="#2a8a58";
const triUp=d3.symbol(d3.symbolTriangle).size(4.2)();
volLayout.forEach((L,i)=>{
  const g=svg.append("g");
  const x=d3.scaleLinear().domain(L.xd).range([L.x0,L.x1]);
  const y=d3.scaleLinear().domain(L.yd).range([L.y1,L.y0]);
  g.append("text").attr("x",L.tx).attr("y",L.ty).attr("font-size",11.5).attr("fill","#111").text(volTitles[i]);
  const lg=g.append("text").attr("x",L.lx).attr("y",L.ty-0.5).attr("font-size",7.6).attr("fill","#222");
  lg.append("tspan").attr("fill",UPC).text("▲ ");
  lg.append("tspan").text(`up-regulated (${volCounts[i][0]}) `);
  lg.append("tspan").attr("fill",DNC).text("▼ ");
  lg.append("tspan").text(`down-regulated (${volCounts[i][1]})`);
  volXTicks.forEach(t=>g.append("line").attr("x1",x(t)).attr("x2",x(t)).attr("y1",L.y0).attr("y2",L.y1).attr("stroke","#e4e8ee").attr("stroke-width",0.6));
  volYTicks[i].forEach(t=>g.append("line").attr("x1",L.x0).attr("x2",L.x1).attr("y1",y(t)).attr("y2",y(t)).attr("stroke","#e4e8ee").attr("stroke-width",0.6));
  g.append("line").attr("x1",x(pThreshold)).attr("x2",x(pThreshold)).attr("y1",L.y0).attr("y2",L.y1).attr("stroke","#5aa8e6").attr("stroke-width",0.7).attr("stroke-dasharray","1.2,1.2");
  [fcThreshold,-fcThreshold].forEach(v=>g.append("line").attr("x1",L.x0).attr("x2",L.x1).attr("y1",y(v)).attr("y2",y(v)).attr("stroke","#5aa8e6").attr("stroke-width",0.7).attr("stroke-dasharray","1.2,1.2"));
  pairs(volNS[i]).forEach(([a,b])=>g.append("circle").attr("cx",x(a)).attr("cy",y(b)).attr("r",1.05).attr("fill","#222"));
  pairs(volUp[i]).forEach(([a,b])=>g.append("path").attr("d",triUp).attr("transform",`translate(${x(a)},${y(b)})`).attr("fill",UPC));
  pairs(volDown[i]).forEach(([a,b])=>g.append("path").attr("d",triUp).attr("transform",`translate(${x(a)},${y(b)}) rotate(180)`).attr("fill",DNC));
  const drawLabels=(labels,col)=>{
    labels.forEach(([t,lx,ly,tx,ty])=>g.append("line").attr("x1",x(lx)).attr("y1",y(ly)).attr("x2",x(tx)).attr("y2",y(ty)).attr("stroke",col).attr("stroke-width",0.45).attr("opacity",0.75));
    labels.forEach(([t,lx,ly])=>{
      const tt=g.append("text").attr("x",x(lx)).attr("y",y(ly)).attr("dy","0.35em").attr("text-anchor","middle").attr("font-size",5.2).attr("fill",col).text(t);
      const bb=tt.node().getBBox();
      g.insert("rect",()=>tt.node()).attr("x",bb.x-2).attr("y",bb.y-0.8).attr("width",bb.width+4).attr("height",bb.height+1.6).attr("rx",1.5)
        .attr("fill","#fff").attr("fill-opacity",0.92).attr("stroke","#cfcfcf").attr("stroke-width",0.5);
    });
  };
  drawLabels(volUpLabels[i],UPT);
  drawLabels(volDownLabels[i],DNT);
  g.append("rect").attr("x",L.x0).attr("y",L.y0).attr("width",L.x1-L.x0).attr("height",L.y1-L.y0).attr("fill","none").attr("stroke","#aaa").attr("stroke-width",0.7);
  volXTicks.forEach(t=>{
    g.append("line").attr("x1",x(t)).attr("x2",x(t)).attr("y1",L.y1).attr("y2",L.y1+2).attr("stroke","#666").attr("stroke-width",0.5);
    g.append("text").attr("x",x(t)).attr("y",L.y1+7).attr("text-anchor","middle").attr("font-size",4.8).attr("fill","#444").text(t);
  });
  volYTicks[i].forEach(t=>{
    g.append("line").attr("x1",L.x0-2).attr("x2",L.x0).attr("y1",y(t)).attr("y2",y(t)).attr("stroke","#666").attr("stroke-width",0.5);
    g.append("text").attr("x",L.x0-3).attr("y",y(t)).attr("dy","0.35em").attr("text-anchor","end").attr("font-size",4.8).attr("fill","#444").text(t);
  });
  g.append("text").attr("x",(L.x0+L.x1)/2).attr("y",L.y1+13).attr("text-anchor","middle").attr("font-size",5.5).attr("fill","#333").text("-log10(pvalue)");
  g.append("text").attr("transform",`translate(382,${(L.y0+L.y1)/2}) rotate(-90)`).attr("text-anchor","middle").attr("font-size",5.3).attr("fill","#8a5a50").text("log2(FoldChange)");
  g.append("text").attr("transform",`translate(368,${y(0)}) rotate(-90)`).attr("text-anchor","middle").attr("font-size",5.5).attr("fill","#333").text("分组");
});
</script></body></html>
